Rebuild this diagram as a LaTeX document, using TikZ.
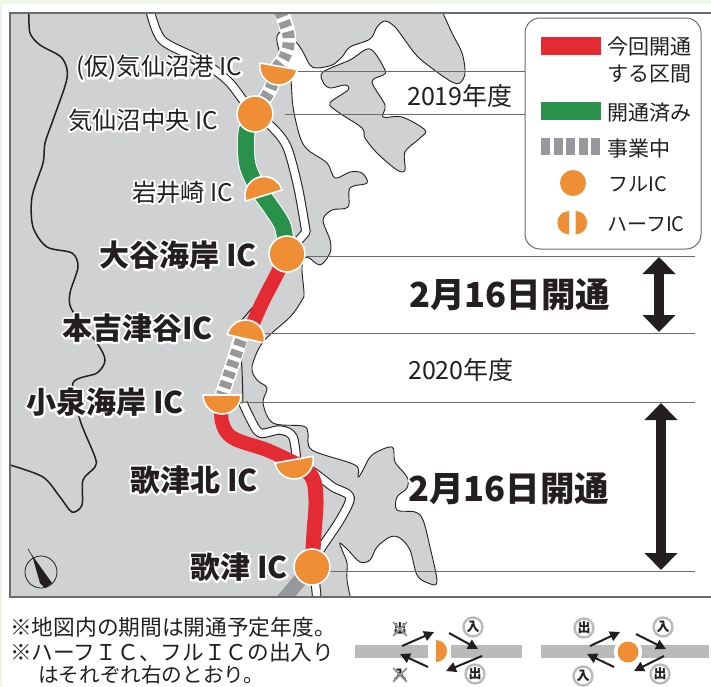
\documentclass[tikz,border=0pt]{standalone}
\usepackage{fontspec}
\setmainfont{Noto Sans CJK JP}
\usetikzlibrary{arrows.meta}
\definecolor{land}{HTML}{D0D1D3}
\definecolor{ink}{HTML}{231F20}
\definecolor{icor}{HTML}{F08E36}
\definecolor{rred}{HTML}{E42A33}
\definecolor{rgreen}{HTML}{2A914B}
\definecolor{rgray}{HTML}{97989B}
\definecolor{leader}{HTML}{6B6B6D}
\definecolor{pagebg}{HTML}{EFF5E8}
\definecolor{barg}{HTML}{B9BABC}
\newcommand{\halo}[2][4]{\leavevmode\rlap{\textcolor{white}{\special{pdf:code 1 Tr #1 w 1 j 1 J}#2\special{pdf:code 0 Tr 1 w}}}#2}
\tikzset{
  x=1pt,y=-1pt,
  coast/.style={draw=ink,line width=0.9pt,fill=land,line join=round},
  border/.style={draw=ink,line width=1.5pt,line cap=round},
  leaderline/.style={draw=leader,line width=0.9pt},
  roadout/.style={draw=ink,line width=9.5pt,line join=round},
  roadin/.style={draw=white,line width=7.4pt,line join=round},
  casing/.style={draw=white,line cap=round},
  dashroad/.style={draw=rgray,line width=12pt,dash pattern=on 6.5pt off 4.5pt},
  fullic/.style={circle,fill=icor,draw=white,line width=1.6pt,minimum size=36pt,inner sep=0pt},
  halfic/.style={fill=icor,draw=white,line width=1.6pt,line join=round},
  lab/.style={inner sep=0pt,text=ink,font=\fontsize{24.3}{25}\selectfont,anchor=west},
  blab/.style={inner sep=0pt,text=ink,font=\fontsize{30}{31}\bfseries\selectfont,anchor=west},
  span/.style={inner sep=0pt,text=ink,font=\fontsize{34.5}{36}\bfseries\selectfont,anchor=west},
  legt/.style={inner sep=0pt,text=ink,font=\fontsize{21}{22}\selectfont,anchor=west},
  foot/.style={inner sep=0pt,text=ink,font=\fontsize{21.7}{22}\selectfont,anchor=west},
  bigarrow/.style={draw=ink,fill=ink,line width=10pt,{Triangle[width=32pt,length=17pt]}-{Triangle[width=32pt,length=17pt]}},
  flow/.style={draw=ink,line width=2pt,-{Triangle[width=10pt,length=10pt]}},
  ring/.style={circle,draw=barg,line width=2.4pt,fill=white,minimum size=19pt,inner sep=0pt,text=ink,font=\fontsize{13}{13}\bfseries\selectfont},
  nogo/.style={circle,minimum size=19pt,inner sep=0pt,text=ink,font=\fontsize{13}{13}\bfseries\selectfont},
  cross/.style={draw=rgray,line width=2pt},
}
\begin{document}
\begin{tikzpicture}
\path[use as bounding box] (0,0) rectangle (711,686);
\fill[pagebg] (0,0) rectangle (711,686);
\fill[white] (2,4) rectangle (711,686);
\begin{scope}
\clip (10,13) rectangle (711,597);
% mainland
\path[coast] plot[smooth,tension=0.55] coordinates {(442,11) (452,33) (462,53) (465,73) (460,83) (452,82) (437,72) (418,57) (407,43) (395,27) (385,21) (377,27) (370,39) (350,47) (342,57) (332,65) (317,68) (310,65) (303,52) (296,42) (283,32) (277,36) (279,50) (290,75) (293,107) (300,137) (308,150) (327,163) (335,178) (350,172) (362,173) (367,183) (350,188) (348,207) (332,210) (323,220) (330,240) (330,253) (320,265) (307,257) (302,267) (304,293) (302,300) (290,317) (263,342) (252,367) (257,380) (267,388) (263,403) (273,423) (303,426) (308,433) (312,450) (355,465) (358,477) (363,470) (372,455) (392,447) (395,462) (407,477) (407,488) (397,497) (397,510) (415,512) (423,520) (430,547) (437,582) (428,583) (417,575) (410,550) (400,538) (390,537) (377,547) (370,560) (360,562) (348,550) (340,543) (342,550) (347,563) (347,580) (351,600)} -- (5,600) -- (5,8) -- cycle;
% island
\path[coast] plot[smooth cycle,tension=0.55] coordinates {(370,49) (385,70) (383,75) (372,82) (385,105) (383,117) (402,117) (425,130) (420,138) (405,152) (405,170) (397,170) (377,153) (365,138) (362,128) (338,112) (330,103) (348,90) (345,85) (330,88) (323,82) (323,72) (350,60)};
% inner borders
\draw[border] plot[smooth,tension=0.5] coordinates {(29,13) (30,33) (40,45) (62,58) (67,78) (53,120) (45,143) (43,163) (32,197) (33,227) (47,247) (72,253) (78,267) (70,293) (72,310) (97,343) (105,360) (97,373) (73,383) (80,420) (95,457) (95,467) (83,480) (82,505) (72,512) (60,497) (43,477) (10,465)};
% old road
\foreach \st in {roadout,roadin}{
  \draw[\st] plot[smooth,tension=0.5] coordinates {(150,10) (162,40) (200,60) (227,80) (243,100) (254,114) (272,127) (287,147) (298,187) (306,232)} -- (287,254);
  \draw[\st] plot[smooth,tension=0.5] coordinates {(243,403) (250,418) (260,433) (280,430) (293,437) (297,466)};
  \draw[\st] plot[smooth,tension=0.5] coordinates {(300,466) (313,472) (333,487) (350,497) (340,520) (320,550) (312,567)};
  \draw[\st] (314,567) -- (317,600);
}
\draw[draw=ink,line width=1pt] (253,307) -- (240,322);
\draw[draw=ink,line width=1pt] plot[smooth] coordinates {(240,340) (242,370) (243,403)};
% expressway
\draw[draw=rgray,line width=14pt] (311,567) -- (283,600);
\draw[casing,line width=15pt] plot[smooth,tension=0.5] coordinates {(282,13) (288,33) (288,48) (283,60) (277,68) (270,90) (255,114)};
\draw[dashroad] plot[smooth,tension=0.5] coordinates {(280,11) (288,33) (288,48) (283,60) (277,68) (270,90) (255,114)};
\draw[casing,line width=15pt] plot[smooth,tension=0.5] coordinates {(240,340) (233,363) (222,395)};
\draw[dashroad] plot[smooth,tension=0.5] coordinates {(241,340) (233,363) (222,395)};
\draw[casing,line width=18pt] plot[smooth,tension=0.5] coordinates {(255,118) (247,130) (246,150) (248,167) (257,187) (273,210) (283,227) (287,254)};
\draw[draw=rgreen,line width=16pt] plot[smooth,tension=0.5] coordinates {(255,118) (247,130) (246,150) (248,167) (257,187) (273,210) (283,227) (287,254)};
\draw[draw=rred,line width=14pt] plot[smooth,tension=0.5] coordinates {(287,254) (278,272) (262,303) (250,330)};
\draw[draw=rred,line width=14pt] plot[smooth,tension=0.6] coordinates {(222,400) (222,422) (233,438) (267,450) (295,463)};
\draw[draw=rred,line width=15pt] plot[smooth,tension=0.6] coordinates {(295,463) (312,477) (316,500) (314,533) (312,567)};
% leader lines
\draw[leaderline] (298,71.5) -- (525,71.5);
\draw[leaderline] (285,114) -- (525,114);
\draw[leaderline] (305,256) -- (695,256);
\draw[leaderline] (265,333) -- (695,333);
\draw[leaderline] (240,402) -- (695,402);
\draw[leaderline] (328,571) -- (695,571);
\end{scope}
% frame
\draw[draw=leader,line width=1.4pt] (711,13) -- (10,13) -- (10,597) -- (711,597);
% half ICs
\path[halfic] (260,63) arc[start angle=170,delta angle=180,radius=18.8pt] -- cycle;
\path[halfic] (282,190) arc[start angle=17,delta angle=180,radius=19pt] -- cycle;
\path[halfic] (264,343) arc[start angle=-13,delta angle=180,radius=18.8pt] -- cycle;
\path[halfic] (203,395) arc[start angle=180,delta angle=180,radius=19pt] -- cycle;
\path[halfic] (275,463) arc[start angle=190,delta angle=180,radius=19.3pt] -- cycle;
% full ICs
\node[fullic] (chuo) at (255,114) {};
\node[fullic] (oya) at (287,254) {};
\node[fullic] (utsu) at (312,567) {};
% labels
\node[lab] (l1) at (76,68) {\halo{(仮)気仙沼港 IC}};
\node[lab] (l2) at (68,120) {\halo{気仙沼中央 IC}};
\node[lab] (l3) at (132,192) {\halo{岩井崎 IC}};
\node[blab] (l4) at (99,255) {\halo{大谷海岸 IC}};
\node[blab] (l5) at (62,328) {\halo{本吉津谷IC}};
\node[blab] (l6) at (26,402) {\halo{小泉海岸 IC}};
\node[blab] (l7) at (130,480) {\halo{歌津北 IC}};
\node[blab] (l8) at (190,567) {\halo{歌津 IC}};
\node[lab,font=\fontsize{25}{26}\selectfont] (y19) at (407,96) {\halo{2019年度}};
\node[lab,font=\fontsize{25}{26}\selectfont] (y20) at (408,370) {\halo{2020年度}};
\node[span] (s1) at (409,295) {\halo{2月16日開通}};
\node[span] (s2) at (408,489) {\halo{2月16日開通}};
\coordinate (a1t) at (659,257); \coordinate (a1b) at (659,332);
\coordinate (a2t) at (661,403); \coordinate (a2b) at (661,570);
\draw[bigarrow] (a1t) -- (a1b);
\draw[bigarrow] (a2t) -- (a2b);
% compass
\draw[draw=ink,line width=0.8pt] (41,572) circle[radius=16pt];
\draw[draw=ink,line width=0.6pt] (28,549) -- (34,559);
\fill[ink] (32,555) -- (52,583) -- (45,588) -- (40,583) -- cycle;
% legend
\draw[draw=leader,fill=white,line width=1pt,rounded corners=15pt] (525,18) rectangle (701,249);
\fill[rred] (541,37) rectangle (601,55);
\fill[rgreen] (541,102) rectangle (601,120);
\foreach \i in {0,1,2,3,4}{\fill[rgray] (541+12.6*\i,138) rectangle ++(9,17);}
\node[legt] (t1) at (607,47) {今回開通};
\node[legt] (t2) at (607,74) {する区間};
\node[legt] (t3) at (607,113) {開通済み};
\node[legt] (t4) at (607,149) {事業中};
\node[legt,font=\fontsize{20}{21}\selectfont] (t5) at (608,184) {フルIC};
\node[legt,font=\fontsize{20}{21}\selectfont] (t6) at (607,224) {ハーフIC};
\fill[icor] (573,183) circle[radius=13pt];
\fill[icor] (569,211) arc[start angle=90,delta angle=180,radius=11.7pt] -- cycle;
\fill[icor] (575.5,211) arc[start angle=90,delta angle=-180,radius=11.7pt] -- cycle;
% footnotes
\node[foot] (f1) at (10,627) {※地図内の期間は開通予定年度。};
\node[foot] (f2) at (10,652) {※ハーフＩＣ、フルＩＣの出入り};
\node[foot,font=\fontsize{20.6}{21}\selectfont] (f3) at (38,675) {はそれぞれ右のとおり。};
% half diagram
\fill[barg] (355,645) rectangle (522,658);
\fill[white] (428,640) rectangle (451,663);
\fill[icor] (436,640) arc[start angle=90,delta angle=-180,radius=11pt] -- cycle;
\draw[flow] (402,646) -- (434,632);
\draw[flow] (449,633) -- (478,649);
\draw[flow] (482,656) -- (446,671);
\draw[flow] (428,667) -- (400,654);
\node[ring] (n1) at (473,627) {入};
\node[ring] (n2) at (475,674) {出};
\node[nogo] (n3) at (400,629) {出};
\node[nogo] (n4) at (400,675) {入};
\draw[cross] (n3.north west) -- (n3.south east);
\draw[cross] (n3.north east) -- (n3.south west);
\draw[cross] (n4.north west) -- (n4.south east);
\draw[cross] (n4.north east) -- (n4.south west);
% full diagram
\fill[barg] (541,645) rectangle (709,658);
\fill[white] (628,652) circle[radius=14pt];
\fill[icor] (628,652) circle[radius=10.5pt];
\draw[flow] (590,646) -- (620,632);
\draw[flow] (636,634) -- (666,649);
\draw[flow] (664,656) -- (634,671);
\draw[flow] (614,667) -- (587,654);
\node[ring] (n5) at (584,628) {出};
\node[ring] (n6) at (663,627) {入};
\node[ring] (n7) at (583,676) {入};
\node[ring] (n8) at (660,674) {出};
\end{tikzpicture}
\end{document}
